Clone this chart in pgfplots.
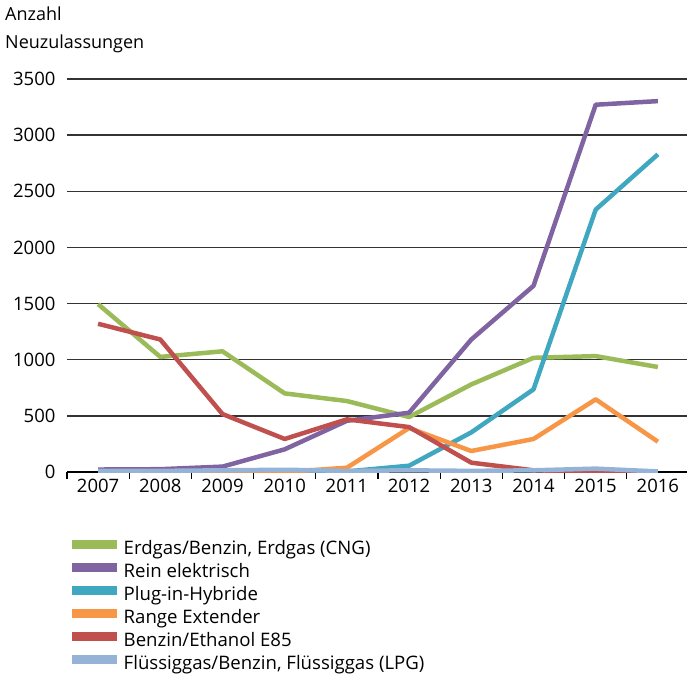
\documentclass[border=0pt]{standalone}
\usepackage{fontspec}
\setmainfont{Open Sans}
\usepackage{pgfplots}
\pgfplotsset{compat=1.18}
\definecolor{cng}{HTML}{9BBB59}
\definecolor{elek}{HTML}{8064A2}
\definecolor{phev}{HTML}{3FA7C0}
\definecolor{rex}{HTML}{F79646}
\definecolor{eee}{HTML}{C0504D}
\definecolor{lpg}{HTML}{95B3D7}
\begin{document}
\begin{tikzpicture}[x=1pt,y=1pt]
\path[use as bounding box] (0,0) rectangle (687,675);
\node[anchor=north west, align=left, inner sep=0pt, font=\fontsize{18}{28}\selectfont] at (5,668) {Anzahl\\Neuzulassungen};
\begin{axis}[
 at={(67pt,203pt)}, anchor=south west,
 scale only axis, width=622pt, height=393pt,
 xmin=2006.5, xmax=2016.5, ymin=0, ymax=3500,
 axis x line*=bottom, axis y line*=left,
 y axis line style={draw=none},
 x axis line style={line width=1.6pt, black, -},
 xtick={2007,...,2016}, major x tick style={draw=none},
 minor xtick={2006.5,2007.5,...,2016.5},
 minor x tick style={line width=1.2pt, black},
 minor tick length=7pt, major tick length=0pt,
 tick align=outside,
 ytick={0,500,...,3500}, major y tick style={draw=none},
 ymajorgrids, grid style={line width=1.3pt, black!80},
 /pgf/number format/assume math mode=true,
 /pgf/number format/1000 sep={},
 tick label style={font=\fontsize{18.5}{22}\selectfont},
 xticklabel style={yshift=-4pt},
 yticklabel style={xshift=-8pt},
 every axis plot/.append style={line width=4.5pt, line join=round, no markers},
 legend style={at={(0,-0.168)}, anchor=north west, draw=none, fill=none,
   font=\fontsize{18.6}{22}\selectfont, row sep=0pt, inner sep=0pt,
   nodes={text height=14pt, text depth=5pt, inner sep=2pt}},
 legend cell align=left,
 legend image code/.code={\draw[#1,line width=9.5pt,line cap=butt] (0pt,5pt) -- (45pt,5pt);},
]
\addplot[cng] coordinates {(2007,1495)(2008,1025)(2009,1075)(2010,700)(2011,632)(2012,490)(2013,780)(2014,1017)(2015,1032)(2016,935)};
\addlegendentry{Erdgas/Benzin, Erdgas (CNG)}
\addplot[elek] coordinates {(2007,22)(2008,25)(2009,48)(2010,202)(2011,456)(2012,528)(2013,1180)(2014,1658)(2015,3271)(2016,3303)};
\addlegendentry{Rein elektrisch}
\addplot[phev] coordinates {(2007,0)(2008,0)(2009,0)(2010,0)(2011,5)(2012,56)(2013,353)(2014,736)(2015,2337)(2016,2829)};
\addlegendentry{Plug-in-Hybride}
\addplot[rex] coordinates {(2007,0)(2008,0)(2009,0)(2010,0)(2011,38)(2012,392)(2013,187)(2014,294)(2015,647)(2016,270)};
\addlegendentry{Range Extender}
\addplot[eee] coordinates {(2007,1320)(2008,1180)(2009,516)(2010,294)(2011,469)(2012,400)(2013,83)(2014,15)(2015,5)(2016,0)};
\addlegendentry{Benzin/Ethanol E85}
\addplot[lpg] coordinates {(2007,10)(2008,10)(2009,15)(2010,20)(2011,10)(2012,15)(2013,10)(2014,15)(2015,30)(2016,5)};
\addlegendentry{Flüssiggas/Benzin, Flüssiggas (LPG)}
\end{axis}
\end{tikzpicture}
\end{document}
